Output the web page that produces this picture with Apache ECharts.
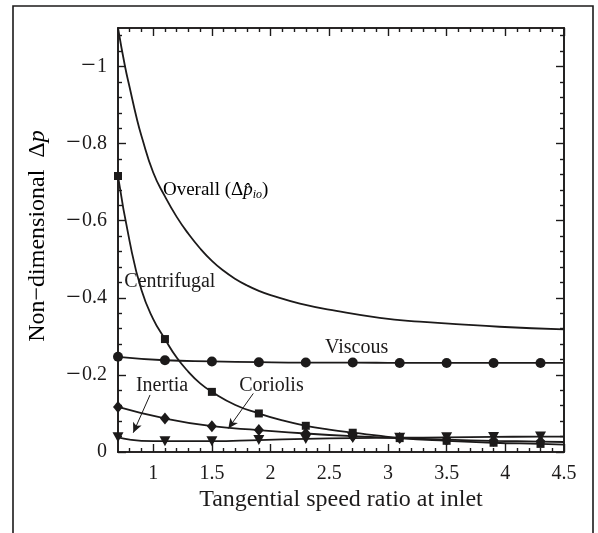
<!DOCTYPE html>
<html>
<head>
<meta charset="utf-8">
<script src="https://cdn.jsdelivr.net/npm/echarts@6/dist/echarts.min.js"></script>
<style>
html,body{margin:0;padding:0;background:#fff;}
#chart{width:598px;height:533px;}
</style>
</head>
<body>
<div id="chart"></div>
<script>
// ---------- data ----------
const xTickValues = [1, 1.5, 2, 2.5, 3, 3.5, 4, 4.5];
const xMinorValues = [0.8, 0.9, 1.1, 1.2, 1.3, 1.4, 1.6, 1.7, 1.8, 1.9, 2.1, 2.2, 2.3, 2.4, 2.6, 2.7, 2.8, 2.9, 3.1, 3.2, 3.3, 3.4, 3.6, 3.7, 3.8, 3.9, 4.1, 4.2, 4.3, 4.4];
const yTickValues = [0, -0.2, -0.4, -0.6, -0.8, -1];
const yMinorValues = [-0.04, -0.08, -0.12, -0.16, -0.24, -0.28, -0.32, -0.36, -0.44, -0.48, -0.52, -0.56, -0.64, -0.68, -0.72, -0.76, -0.84, -0.88, -0.92, -0.96, -1.04, -1.08];

const markerX = [0.7, 1.1, 1.5, 1.9, 2.3, 2.7, 3.1, 3.5, 3.9, 4.3];
const centrifugalMarkers = [-0.716, -0.293, -0.156, -0.100, -0.068, -0.050, -0.036, -0.029, -0.024, -0.021];
const viscousMarkers = [-0.247, -0.238, -0.235, -0.233, -0.232, -0.232, -0.231, -0.231, -0.231, -0.231];
const coriolisMarkers = [-0.117, -0.087, -0.067, -0.057, -0.048, -0.041, -0.036, -0.032, -0.029, -0.027];
const inertiaMarkers = [-0.038, -0.028, -0.028, -0.031, -0.034, -0.036, -0.037, -0.038, -0.039, -0.040];

const overallX = [0.7, 0.76, 0.8, 0.86, 0.9, 1.0, 1.1, 1.2, 1.3, 1.4, 1.5, 1.6, 1.7, 1.8, 1.9, 2.0, 2.25, 2.56, 2.93, 3.27, 3.58, 3.95, 4.5];
const overallY = [-1.10, -1.00, -0.945, -0.865, -0.82, -0.725, -0.663, -0.61, -0.566, -0.528, -0.496, -0.47, -0.449, -0.432, -0.418, -0.407, -0.385, -0.366, -0.348, -0.338, -0.332, -0.325, -0.318];

const centrifugalX = [0.7, 0.8, 0.9, 1.0, 1.1, 1.2, 1.3, 1.4, 1.5, 1.7, 1.9, 2.1, 2.3, 2.5, 2.7, 2.9, 3.1, 3.5, 3.9, 4.3, 4.5];
const centrifugalY = [-0.716, -0.545, -0.42, -0.345, -0.293, -0.245, -0.208, -0.178, -0.156, -0.122, -0.100, -0.082, -0.068, -0.058, -0.050, -0.043, -0.036, -0.029, -0.024, -0.021, -0.019];

const viscousX = [0.7, 1.1, 1.5, 1.9, 2.3, 2.7, 3.1, 3.5, 3.9, 4.3, 4.5];
const viscousY = [-0.247, -0.238, -0.235, -0.233, -0.232, -0.232, -0.231, -0.231, -0.231, -0.231, -0.231];

const coriolisX = [0.7, 1.1, 1.5, 1.9, 2.3, 2.7, 3.1, 3.5, 3.9, 4.3, 4.5];
const coriolisY = [-0.117, -0.087, -0.067, -0.057, -0.048, -0.041, -0.036, -0.032, -0.029, -0.027, -0.026];

const inertiaX = [0.7, 0.8, 0.9, 1.1, 1.5, 1.9, 2.3, 2.7, 3.1, 3.5, 3.9, 4.3, 4.5];
const inertiaY = [-0.038, -0.032, -0.029, -0.028, -0.028, -0.031, -0.034, -0.036, -0.037, -0.038, -0.039, -0.040, -0.040];

// annotation texts and anchor points (data coords)
const labelTexts = ['Centrifugal', 'Viscous', 'Inertia', 'Coriolis'];
const labelAnchors = [[0.754, -0.441], [2.463, -0.271], [0.853, -0.171], [1.733, -0.171]];
const overallLabelAnchor = [1.083, -0.679];
const inertiaArrow = [[0.973, -0.148], [0.83, -0.050]];
const coriolisArrow = [[1.853, -0.152], [1.64, -0.061]];

// ---------- chart ----------
const INK = '#1c1a1a';
const FONT = '"Liberation Serif", "DejaVu Serif", serif';
const zip = (xs, ys) => xs.map((x, i) => [x, ys[i]]);
const fmtY = v => (Math.abs(v) < 1e-9 ? '{n|0}' : '{m|\u2212}{n|' + String(Math.round(Math.abs(v) * 10) / 10) + '}');

const chart = echarts.init(document.getElementById('chart'), null, {renderer: 'canvas', width: 598, height: 533});

function xAx(position, values, len, showLabel) {
  return {
    type: 'value', min: 0.7, max: 4.5, position: position,
    axisLine: {show: true, onZero: false, lineStyle: {color: INK, width: 1.6}},
    axisTick: {show: true, inside: true, length: len, customValues: values, lineStyle: {color: INK, width: 1.4}},
    axisLabel: showLabel ? {show: true, customValues: values, margin: 12, color: INK, fontFamily: FONT, fontSize: 20} : {show: false},
    splitLine: {show: false}
  };
}
function yAx(position, values, len, showLabel) {
  return {
    type: 'value', min: -1.1, max: 0, inverse: true, position: position,
    axisLine: {show: true, onZero: false, lineStyle: {color: INK, width: 1.6}},
    axisTick: {show: true, inside: true, length: len, customValues: values, lineStyle: {color: INK, width: 1.4}},
    axisLabel: showLabel ? {show: true, customValues: values, margin: 11, color: INK, fontFamily: FONT, fontSize: 20, formatter: fmtY,
      rich: {m: {fontFamily: FONT, fontSize: 26, color: INK, padding: [0, 1, 0, 0]}, n: {fontFamily: FONT, fontSize: 20, color: INK}}} : {show: false},
    splitLine: {show: false}
  };
}

const lineBase = {type: 'line', smooth: 0.5, showSymbol: false, symbol: 'none',
  lineStyle: {color: INK, width: 1.8}, xAxisIndex: 0, yAxisIndex: 0, animation: false, z: 3};
const scatterBase = {type: 'scatter', xAxisIndex: 0, yAxisIndex: 0, itemStyle: {color: INK, opacity: 1}, animation: false, z: 4};

chart.setOption({
  animation: false,
  grid: {left: 118, right: 34, top: 28, bottom: 81, containLabel: false},
  xAxis: [
    xAx('bottom', xTickValues, 8, true),
    xAx('top', xTickValues, 8, false),
    xAx('bottom', xMinorValues, 4, false),
    xAx('top', xMinorValues, 4, false)
  ],
  yAxis: [
    yAx('left', yTickValues, 8, true),
    yAx('right', yTickValues, 8, false),
    yAx('left', yMinorValues, 4, false),
    yAx('right', yMinorValues, 4, false)
  ],
  series: [
    Object.assign({}, lineBase, {name: 'Overall', data: zip(overallX, overallY)}),
    Object.assign({}, lineBase, {name: 'Centrifugal', data: zip(centrifugalX, centrifugalY)}),
    Object.assign({}, lineBase, {name: 'Viscous', data: zip(viscousX, viscousY)}),
    Object.assign({}, lineBase, {name: 'Coriolis', data: zip(coriolisX, coriolisY)}),
    Object.assign({}, lineBase, {name: 'Inertia', data: zip(inertiaX, inertiaY),
      markLine: {silent: true, animation: false, symbol: ['none', 'arrow'], symbolSize: [7, 10],
        label: {show: false}, lineStyle: {color: INK, width: 1, type: 'solid'},
        data: [
          [{coord: inertiaArrow[0]}, {coord: inertiaArrow[1]}],
          [{coord: coriolisArrow[0]}, {coord: coriolisArrow[1]}]
        ]}}),
    Object.assign({}, scatterBase, {name: 'CentrifugalPts', symbol: 'rect', symbolSize: 8, data: zip(markerX, centrifugalMarkers)}),
    Object.assign({}, scatterBase, {name: 'ViscousPts', symbol: 'circle', symbolSize: 10, data: zip(markerX, viscousMarkers)}),
    Object.assign({}, scatterBase, {name: 'CoriolisPts', symbol: 'diamond', symbolSize: [10, 12], data: zip(markerX, coriolisMarkers)}),
    Object.assign({}, scatterBase, {name: 'InertiaPts', symbol: 'triangle', symbolRotate: 180, symbolSize: [11, 10], data: zip(markerX, inertiaMarkers)})
  ]
});

const toPx = p => chart.convertToPixel({xAxisIndex: 0, yAxisIndex: 0}, p);
const graphics = [];
// outer frame
graphics.push({type: 'rect', silent: true, z: 0, shape: {x: 13, y: 6, width: 580, height: 545},
  style: {fill: 'none', stroke: INK, lineWidth: 1.6}});
// axis titles
graphics.push({type: 'text', silent: true, x: 341, y: 500, style: {
  text: 'Tangential speed ratio at inlet', font: '24px ' + FONT, fill: INK, align: 'center', verticalAlign: 'middle'}});
graphics.push({type: 'text', silent: true, x: 38, y: 236, rotation: Math.PI / 2, style: {
  text: '{a|Non\u2212dimensional  \u0394}{p|p}', align: 'center', verticalAlign: 'middle',
  rich: {a: {fontFamily: FONT, fontSize: 24, color: INK}, p: {fontFamily: FONT, fontSize: 24, fontStyle: 'italic', color: INK}}}});
// series annotations
labelTexts.forEach((t, i) => {
  const p = toPx(labelAnchors[i]);
  graphics.push({type: 'text', silent: true, x: p[0], y: p[1], z: 5, style: {
    text: t, font: '20px ' + FONT, fill: INK, align: 'left', verticalAlign: 'middle'}});
});
const op = toPx(overallLabelAnchor);
graphics.push({type: 'text', silent: true, x: op[0], y: op[1], z: 5, style: {
  text: '{a|Overall (\u0394}{p|p\u0302}{s|io}{a|)}', align: 'left', verticalAlign: 'middle',
  rich: {
    a: {fontFamily: FONT, fontSize: 19, color: INK, lineHeight: 22, verticalAlign: 'middle'},
    p: {fontFamily: FONT, fontSize: 19, fontStyle: 'italic', color: INK, lineHeight: 22, verticalAlign: 'middle'},
    s: {fontFamily: FONT, fontSize: 12, fontStyle: 'italic', color: INK, lineHeight: 12, verticalAlign: 'bottom', padding: [6, 0, 0, 0]}
  }}});
chart.setOption({graphic: graphics});
</script>
</body>
</html>
